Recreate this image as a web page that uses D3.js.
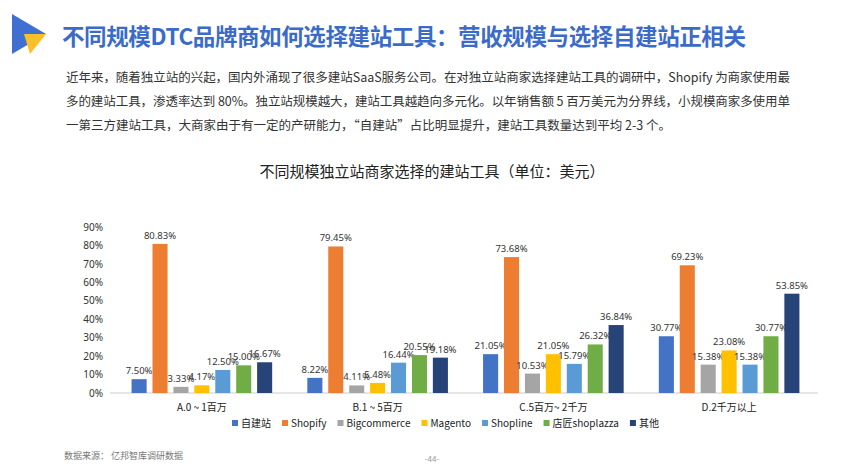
<!DOCTYPE html>
<meta charset="utf-8">
<style>
body { margin:0; background:#fff; font-family:"Noto Sans CJK SC","Noto Sans",sans-serif; }
</style>
<body>
<script src="https://d3js.org/d3.v7.min.js"></script>
<script>
// data
var categories = ["A.0 ~ 1百万", "B.1 ~ 5百万", "C.5百万~ 2千万", "D.2千万以上"];
var seriesNames = ["自建站", "Shopify", "Bigcommerce", "Magento", "Shopline", "店匠shoplazza", "其他"];
var colors = ["#4472C4", "#ED7D31", "#A5A5A5", "#FFC000", "#5B9BD5", "#70AD47", "#264478"];
var zijianzhan = [7.50, 8.22, 21.05, 30.77];
var shopify = [80.83, 79.45, 73.68, 69.23];
var bigcommerce = [3.33, 4.11, 10.53, 15.38];
var magento = [4.17, 5.48, 21.05, 23.08];
var shopline = [12.50, 16.44, 15.79, 15.38];
var shoplazza = [15.00, 20.55, 26.32, 30.77];
var other = [16.67, 19.18, 36.84, 53.85];
var yTicks = [0, 10, 20, 30, 40, 50, 60, 70, 80, 90];

var series = [zijianzhan, shopify, bigcommerce, magento, shopline, shoplazza, other];

var svg = d3.select("body").append("svg").attr("width", 850).attr("height", 472);

// header
svg.append("path").attr("d", "M12,14 L12,54 L46,34 Z").attr("fill", "#3F6FD1");
svg.append("path").attr("d", "M24,34 L46,34 L30,54 Z").attr("fill", "#FBBF2A");
svg.append("text").attr("x", 62).attr("y", 45).attr("font-size", 22.5).attr("font-weight", "bold")
  .attr("fill", "#3A6BC9").attr("textLength", 684).text("不同规模DTC品牌商如何选择建站工具：营收规模与选择自建站正相关");

var para = ["近年来，随着独立站的兴起，国内外涌现了很多建站SaaS服务公司。在对独立站商家选择建站工具的调研中，Shopify 为商家使用最",
  "多的建站工具，渗透率达到 80%。独立站规模越大，建站工具越趋向多元化。以年销售额 5 百万美元为分界线，小规模商家多使用单",
  "一第三方建站工具，大商家由于有一定的产研能力，“自建站”占比明显提升，建站工具数量达到平均 2-3 个。"];
var paraLen = [724, 724, null];
para.forEach(function(t, i) {
  var tx = svg.append("text").attr("x", 66).attr("y", 82 + i * 24).attr("font-size", 12.5).attr("fill", "#333").text(t);
  if (paraLen[i]) tx.attr("textLength", paraLen[i]);
});

svg.append("text").attr("x", 432).attr("y", 177).attr("text-anchor", "middle").attr("font-size", 15)
  .attr("fill", "#222").text("不同规模独立站商家选择的建站工具（单位：美元）");

// chart
var x0 = d3.scaleBand().domain(categories).range([114, 817]).paddingInner(0.2).paddingOuter(0.1);
var x1 = d3.scaleBand().domain(d3.range(seriesNames.length)).range([0, x0.bandwidth()]).paddingInner(0.28);
var y = d3.scaleLinear().domain([0, 90]).range([393, 227]);

var yAxis = svg.append("g").attr("transform", "translate(106,0)")
  .call(d3.axisLeft(y).tickValues(yTicks).tickSize(0).tickFormat(function(d) { return d + "%"; }));
yAxis.select(".domain").remove();
yAxis.selectAll("text").attr("font-size", 10).attr("fill", "#333").attr("font-family", "Noto Sans");

svg.append("line").attr("x1", 110).attr("x2", 818).attr("y1", y(0)).attr("y2", y(0)).attr("stroke", "#ccc");

series.forEach(function(vals, s) {
  categories.forEach(function(c, i) {
    var bx = x0(c) + x1(s);
    svg.append("rect").attr("x", bx).attr("y", y(vals[i])).attr("width", x1.bandwidth())
      .attr("height", y(0) - y(vals[i])).attr("fill", colors[s]);
    svg.append("text").attr("x", bx + x1.bandwidth() / 2).attr("y", y(vals[i]) - 5)
      .attr("text-anchor", "middle").attr("font-size", 9.5).attr("fill", "#333")
      .attr("font-family", "Noto Sans").text(vals[i].toFixed(2) + "%");
  });
});

categories.forEach(function(c) {
  svg.append("text").attr("x", x0(c) + x0.bandwidth() / 2).attr("y", 411).attr("text-anchor", "middle")
    .attr("font-size", 10).attr("fill", "#222").text(c);
});

// legend
var lx = 232;
seriesNames.forEach(function(n, i) {
  svg.append("rect").attr("x", lx).attr("y", 420).attr("width", 6).attr("height", 6).attr("fill", colors[i]);
  var t = svg.append("text").attr("x", lx + 9).attr("y", 427).attr("font-size", 10).attr("fill", "#222").text(n);
  lx += t.node().getComputedTextLength() + 20;
});

svg.append("text").attr("x", 64).attr("y", 459).attr("font-size", 9).attr("fill", "#777").text("数据来源： 亿邦智库调研数据");
svg.append("text").attr("x", 432).attr("y", 462).attr("text-anchor", "middle").attr("font-size", 8).attr("fill", "#999").text("-44-");
</script>
</body>
